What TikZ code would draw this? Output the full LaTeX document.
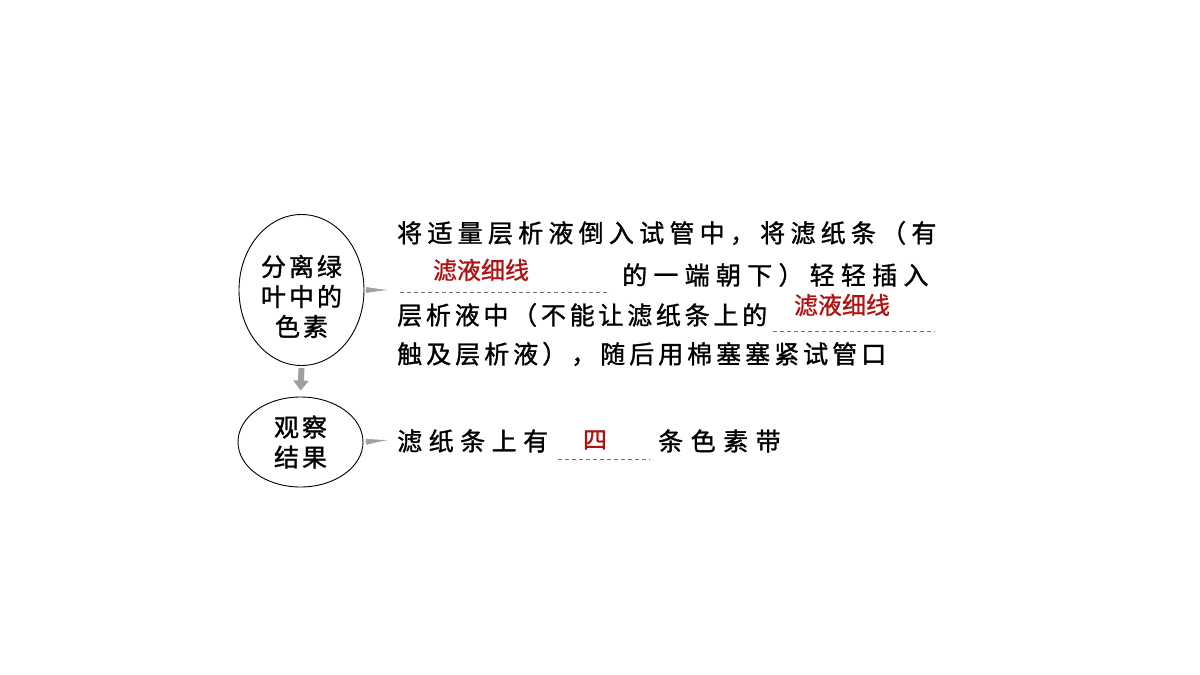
\documentclass[tikz,border=0pt]{standalone}
\usepackage{fontspec}
\usepackage{tikz}
\usetikzlibrary{arrows.meta,shapes.geometric}
\newfontfamily\cjk{Noto Sans CJK SC}
\definecolor{answerred}{RGB}{176,18,18}
\definecolor{arrowgray}{RGB}{160,160,160}

\begin{document}
\begin{tikzpicture}[x=1pt,y=-1pt,
  body/.style={anchor=west, inner sep=0, font=\cjk\fontsize{25}{25}\selectfont\addfontfeature{LetterSpace=#1,FakeBold=1.2}},
  body/.default=21,
  answer/.style={inner sep=0, text=answerred, font=\cjk\fontsize{24}{24}\selectfont\addfontfeature{FakeBold=1}},
  blank/.style={draw=black!55, line width=0.8pt, dash pattern=on 4pt off 3pt},
  bubble/.style={draw, ellipse, line width=0.9pt, inner sep=0, align=center, font=\cjk\fontsize{25}{30}\selectfont\addfontfeature{LetterSpace=12,FakeBold=1.2}},
  pointer/.style={-{Latex[length=22pt,width=6pt]}, draw=arrowgray, fill=arrowgray, line width=0.5pt}]

\useasboundingbox[fill=white] (0,0) rectangle (1200,675);

% ellipses
\node[bubble, minimum width=125pt, minimum height=151pt] (sep) at (301.5,290) {\rule{0pt}{34pt}分离绿\\叶中的\\色素};
\node[bubble, minimum width=125pt, minimum height=90pt] (obs) at (300.5,442) {观察\\结果};

% arrows
\draw[arrowgray, line width=6pt, -{Triangle[length=10pt,width=15pt]}, shorten <=2pt, shorten >=6pt] (sep.south) -- (obs.north);
\coordinate (p1) at (388,290);
\coordinate (p2) at (388,440);
\draw[pointer] (sep.east) -- (p1);
\draw[pointer] (obs.east) -- (p2);

% method text
\node[body] (l1) at (397,233) {将适量层析液倒入试管中，将滤纸条（有};
\node[body=25] (l2) at (622,275) {的一端朝下）轻轻插入};
\node[body=15] (l3) at (397,315) {层析液中（不能让滤纸条上的};
\node[body=16] (l4) at (397,354) {触及层析液），随后用棉塞塞紧试管口};

% result text
\node[body=26] (r1) at (397,441) {滤纸条上有};
\node[body=30] (r2) at (658,441) {条色素带};

% blanks
\draw[blank] (400,292) -- (610,292);
\draw[blank] (773,331) -- (935,331);
\draw[blank] (558,459) -- (650,459);

% answers
\node[answer] (a1) at (481,270) {滤液细线};
\node[answer] (a2) at (842,305) {滤液细线};
\node[answer] (a3) at (595,440) {四};

\end{tikzpicture}
\end{document}
